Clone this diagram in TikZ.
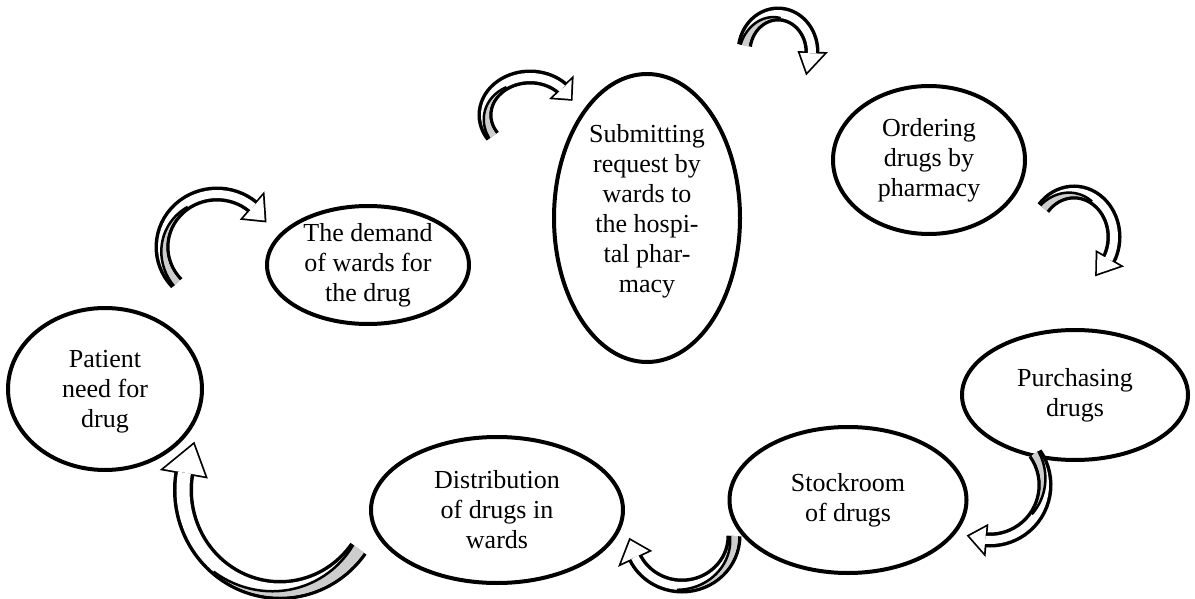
\documentclass[tikz,border=0pt]{standalone}
\usepackage{fontspec}
\setmainfont{Liberation Serif}
\usetikzlibrary{shapes.geometric}
\definecolor{ribbongray}{RGB}{205,205,205}
\tikzset{
  stage/.style={ellipse, draw, line width=4pt, fill=white, inner sep=0pt},
  stagetext/.style={align=center, inner sep=0pt, font=\fontsize{26}{30}\selectfont},
}
% side of the ribbon that shows its grey back: 1 = inner edge, -1 = outer edge
\def\twSide{1}
% Twisted curved arrow along an elliptic arc:
% #1 centre, #2 x radius, #3 y radius, #4 tail angle, #5 angle where the
% grey back of the ribbon ends, #6 head base angle, #7 tip angle,
% #8 ribbon width, #9 half width of the head
\newcommand\ribbonarrow[9]{%
  \begin{scope}[shift={#1}]
    \pgfmathsetmacro\twRxi{#2-#9}\pgfmathsetmacro\twRyi{#3-#9}%
    \pgfmathsetmacro\twRxo{#2+#9}\pgfmathsetmacro\twRyo{#3+#9}%
    \pgfmathsetmacro\twEdge{#8+7}%
    \pgfmathsetmacro\twH{#8/2}%
    \pgfmathsetmacro\twEx{#2-\twSide*\twH}\pgfmathsetmacro\twEy{#3-\twSide*\twH}%
    \draw[line width=\twEdge] (#4:#2 and #3) arc[start angle=#4, end angle=#6, x radius=#2, y radius=#3];
    \draw[line width=3.5, line join=miter] (#6:{\twRxi} and {\twRyi}) -- (#7:#2 and #3) -- (#6:{\twRxo} and {\twRyo}) -- cycle;
    \draw[line width=#8, white] (#4:#2 and #3) arc[start angle=#4, end angle=#6, x radius=#2, y radius=#3];
    \fill[ribbongray] (#4:{\twEx} and {\twEy}) arc[start angle=#4, end angle=#5, x radius=\twEx, y radius=\twEy]
      -- plot[domain=#5:#4, samples=30] (\x:{\twEx+\twSide*2*\twH*(#5-\x)/(#5-#4)} and {\twEy+\twSide*2*\twH*(#5-\x)/(#5-#4)}) -- cycle;
    \draw[line width=2.5] plot[domain=#5:#4, samples=30] (\x:{\twEx+\twSide*2*\twH*(#5-\x)/(#5-#4)} and {\twEy+\twSide*2*\twH*(#5-\x)/(#5-#4)});
    \fill[white] (#6:{\twRxi} and {\twRyi}) -- (#7:#2 and #3) -- (#6:{\twRxo} and {\twRyo}) -- cycle;
  \end{scope}}
\begin{document}
\begin{tikzpicture}[x=1pt,y=-1pt]
\useasboundingbox (0,0) rectangle (1195,599);

% stages of the cycle
\node[stage, minimum width=194, minimum height=162] (patient) at (105,389) {};
\node[stage, minimum width=202, minimum height=118] (demand) at (368,265) {};
\node[stage, minimum width=186, minimum height=288] (submit) at (647,218) {};
\node[stage, minimum width=192, minimum height=148] (order) at (929,160) {};
\node[stage, minimum width=226, minimum height=130] (purchase) at (1075,395) {};
\node[stage, minimum width=237, minimum height=146] (stock) at (848,500) {};
\node[stage, minimum width=252, minimum height=146] (distrib) at (497,510) {};

\node[stagetext] (patientt) at ([yshift=-3]patient.center) {Patient\\need for\\drug};
\node[stagetext] (demandt) at (demand.center) {The demand\\of wards for\\the drug};
\node[stagetext] (submitt) at ([yshift=7]submit.center) {Submitting\\request by\\wards to\\the hospi-\\tal phar-\\macy};
\node[stagetext] (ordert) at (order.center) {Ordering\\drugs by\\pharmacy};
\node[stagetext] (purchaset) at (purchase.center) {Purchasing\\drugs};
\node[stagetext] (stockt) at (stock.center) {Stockroom\\of drugs};
\node[stagetext] (distribt) at (distrib.center) {Distribution\\of drugs in\\wards};

% curved arrows between the stages
\ribbonarrow{(217,247)}{55}{53}{137}{235}{311}{330}{8}{15}
\ribbonarrow{(530,115)}{45}{38}{146}{235}{316}{335}{8}{13}
\ribbonarrow{(778,52)}{34}{38}{190}{275}{362}{392}{8}{12}
\ribbonarrow{(1074,237)}{40}{45}{220}{300}{390}{415}{8}{13}
\ribbonarrow{(990,485)}{55}{55}{325}{395}{455}{472}{8}{13}
\def\twSide{-1}
\ribbonarrow{(682,536)}{52}{50}{0}{95}{155}{175}{8}{15}
\ribbonarrow{(280,490)}{97}{100}{36}{130}{190}{207}{13}{21}
\end{tikzpicture}
\end{document}
